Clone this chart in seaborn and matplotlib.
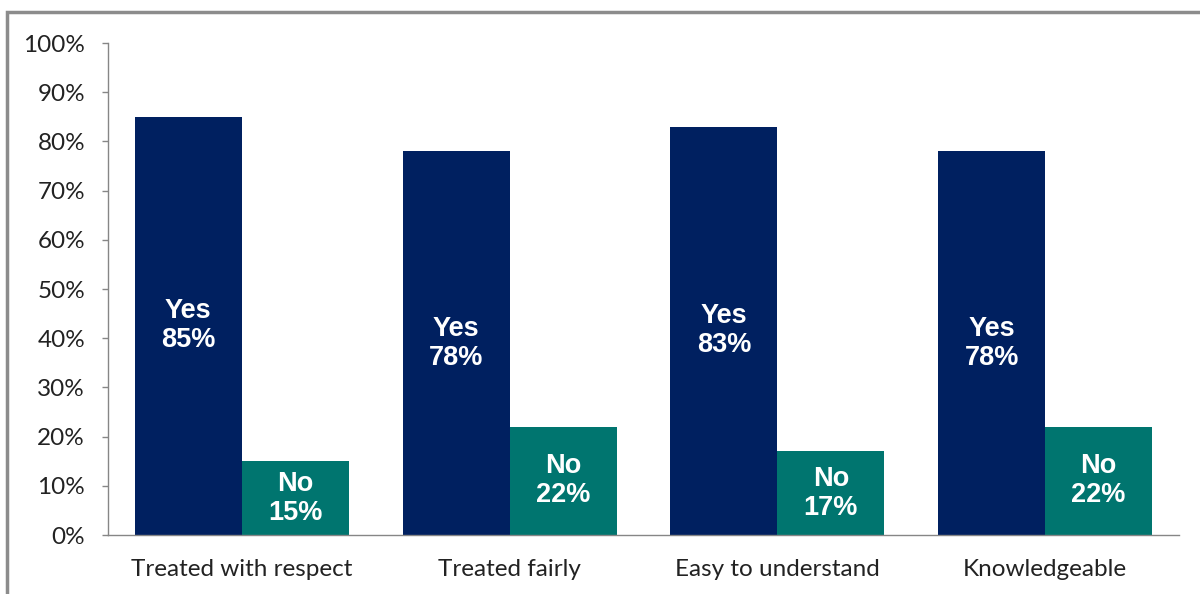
import pandas as pd
import matplotlib
matplotlib.use("Agg")
import matplotlib.pyplot as plt
import seaborn as sns
from matplotlib.patches import Rectangle
from matplotlib.ticker import FuncFormatter, MultipleLocator, FixedLocator

# ---------------- data ----------------
categories = ["Treated with respect", "Treated fairly", "Easy to understand", "Knowledgeable"]
yes_vals = [85, 78, 83, 78]
no_vals = [15, 22, 17, 22]
answers = ["Yes", "No"]
palette = {"Yes": "#002060", "No": "#00756F"}

df = pd.DataFrame({
    "category": categories * 2,
    "answer": ["Yes"] * len(categories) + ["No"] * len(categories),
    "pct": yes_vals + no_vals,
})

sns.set_style("white")
plt.rcParams["font.family"] = ["Lato", "DejaVu Sans"]

fig = plt.figure(figsize=(12, 5.94), dpi=100)
ax = fig.add_axes([108 / 1200, 1 - 535 / 594, (1179 - 108) / 1200, (535 - 43) / 594])

sns.barplot(data=df, x="category", y="pct", hue="answer", hue_order=answers,
            palette=palette, width=0.8, saturation=1, ax=ax, legend=False,
            linewidth=0, edgecolor="none")

# labels inside bars
for cont, ans in zip(ax.containers, answers):
    for bar in cont:
        h = bar.get_height()
        ax.text(bar.get_x() + bar.get_width() / 2, h / 2, f"{ans}\n{h:.0f}%",
                ha="center", va="center", color="white", fontsize=19.5, fontweight="bold",
                family="Liberation Sans", linespacing=1.15)

ax.set_ylim(0, 100)
ax.set_xlim(-0.5, len(categories) - 0.5)
ax.yaxis.set_major_locator(MultipleLocator(10))
ax.yaxis.set_major_formatter(FuncFormatter(lambda v, p: f"{v:.0f}%"))
ax.set_xlabel("")
ax.set_ylabel("")

ax.xaxis.set_minor_locator(FixedLocator([i - 0.5 for i in range(len(categories) + 1)]))
ax.tick_params(axis="x", which="major", length=0, labelsize=17.5, pad=17, colors="#222222")
ax.tick_params(axis="x", which="minor", length=4.5, width=1, color="#868686", direction="out")
ax.tick_params(axis="y", which="major", length=4.5, width=1, color="#868686", direction="out",
               left=True, labelsize=17.5, pad=12, labelcolor="#222222")

for s in ["top", "right"]:
    ax.spines[s].set_visible(False)
for s in ["left", "bottom"]:
    ax.spines[s].set_color("#868686")
    ax.spines[s].set_linewidth(1)

# outer chart-area border (top & left visible, rest runs off the image)
fig.patches.append(Rectangle((7 / 1200, -0.1), 1.2, 1 - 12 / 594 + 0.1,
                             transform=fig.transFigure, fill=False,
                             edgecolor="#8c8c8c", linewidth=2.5))

fig.savefig("out.png", dpi=100)
